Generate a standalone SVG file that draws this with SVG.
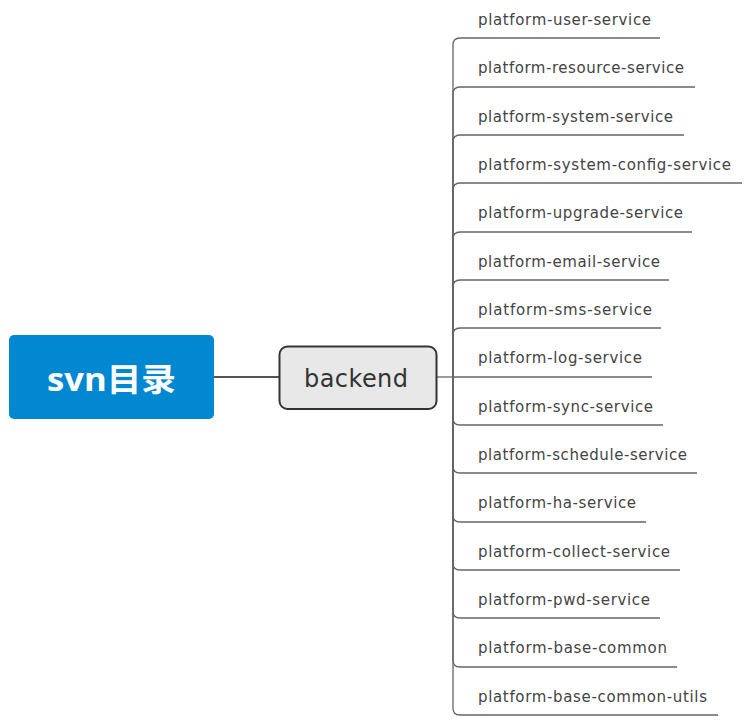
<svg xmlns="http://www.w3.org/2000/svg" width="751" height="720" viewBox="0 0 751 720">
<style>
.leaf{font-family:"DejaVu Sans","Noto Sans",sans-serif;font-size:15px;fill:#444}
.ln{fill:none;stroke:#666;stroke-width:1.3}
.conn{fill:none;stroke:#555;stroke-width:2}
</style>
<rect width="751" height="720" fill="#fff"/>
<g id="connectors">
<path class="conn" d="M214,377 H279"/>
<path class="ln" d="M436,377 H453"/>
<path class="ln" d="M453,377 V45 Q453,38 460,38 H660"/>
<path class="ln" d="M453,377 V94 Q453,87 460,87 H695"/>
<path class="ln" d="M453,377 V142 Q453,135 460,135 H684"/>
<path class="ln" d="M453,377 V190 Q453,183 460,183 H742"/>
<path class="ln" d="M453,377 V239 Q453,232 460,232 H692"/>
<path class="ln" d="M453,377 V287 Q453,280 460,280 H669"/>
<path class="ln" d="M453,377 V335 Q453,328 460,328 H661"/>
<path class="ln" d="M453,377 H652"/>
<path class="ln" d="M453,377 V418 Q453,425 460,425 H663"/>
<path class="ln" d="M453,377 V466 Q453,473 460,473 H697"/>
<path class="ln" d="M453,377 V515 Q453,522 460,522 H646"/>
<path class="ln" d="M453,377 V563 Q453,570 460,570 H680"/>
<path class="ln" d="M453,377 V611 Q453,618 460,618 H660"/>
<path class="ln" d="M453,377 V660 Q453,667 460,667 H677"/>
<path class="ln" d="M453,377 V708 Q453,715 460,715 H718"/>
</g>
<g id="root">
<rect x="9" y="335" width="205" height="84" rx="5" fill="#0288d1"/>
<text x="47" y="391" textLength="129" lengthAdjust="spacingAndGlyphs" font-family="'Open Sans','Noto Sans CJK SC',sans-serif" font-size="32" font-weight="bold" fill="#fff">svn目录</text>
</g>
<g id="backend">
<rect x="279.5" y="346.5" width="157" height="62.5" rx="8" fill="#e8e8e8" stroke="#333" stroke-width="2"/>
<text x="304" y="387" textLength="104" font-family="'DejaVu Sans','Noto Sans',sans-serif" font-size="24" fill="#333">backend</text>
</g>
<g id="leaves">
<g id="n1"><text class="leaf" x="478" y="25" textLength="173">platform-user-service</text></g>
<g id="n2"><text class="leaf" x="478" y="73.3" textLength="206">platform-resource-service</text></g>
<g id="n3"><text class="leaf" x="478" y="121.7" textLength="195">platform-system-service</text></g>
<g id="n4"><text class="leaf" x="478" y="170" textLength="253">platform-system-config-service</text></g>
<g id="n5"><text class="leaf" x="478" y="218.3" textLength="205">platform-upgrade-service</text></g>
<g id="n6"><text class="leaf" x="478" y="266.7" textLength="182">platform-email-service</text></g>
<g id="n7"><text class="leaf" x="478" y="315" textLength="174">platform-sms-service</text></g>
<g id="n8"><text class="leaf" x="478" y="363.3" textLength="164">platform-log-service</text></g>
<g id="n9"><text class="leaf" x="478" y="411.7" textLength="175">platform-sync-service</text></g>
<g id="n10"><text class="leaf" x="478" y="460" textLength="209">platform-schedule-service</text></g>
<g id="n11"><text class="leaf" x="478" y="508.3" textLength="158">platform-ha-service</text></g>
<g id="n12"><text class="leaf" x="478" y="556.7" textLength="192">platform-collect-service</text></g>
<g id="n13"><text class="leaf" x="478" y="605" textLength="172">platform-pwd-service</text></g>
<g id="n14"><text class="leaf" x="478" y="653.3" textLength="189">platform-base-common</text></g>
<g id="n15"><text class="leaf" x="478" y="701.7" textLength="229">platform-base-common-utils</text></g>
</g>
</svg>
